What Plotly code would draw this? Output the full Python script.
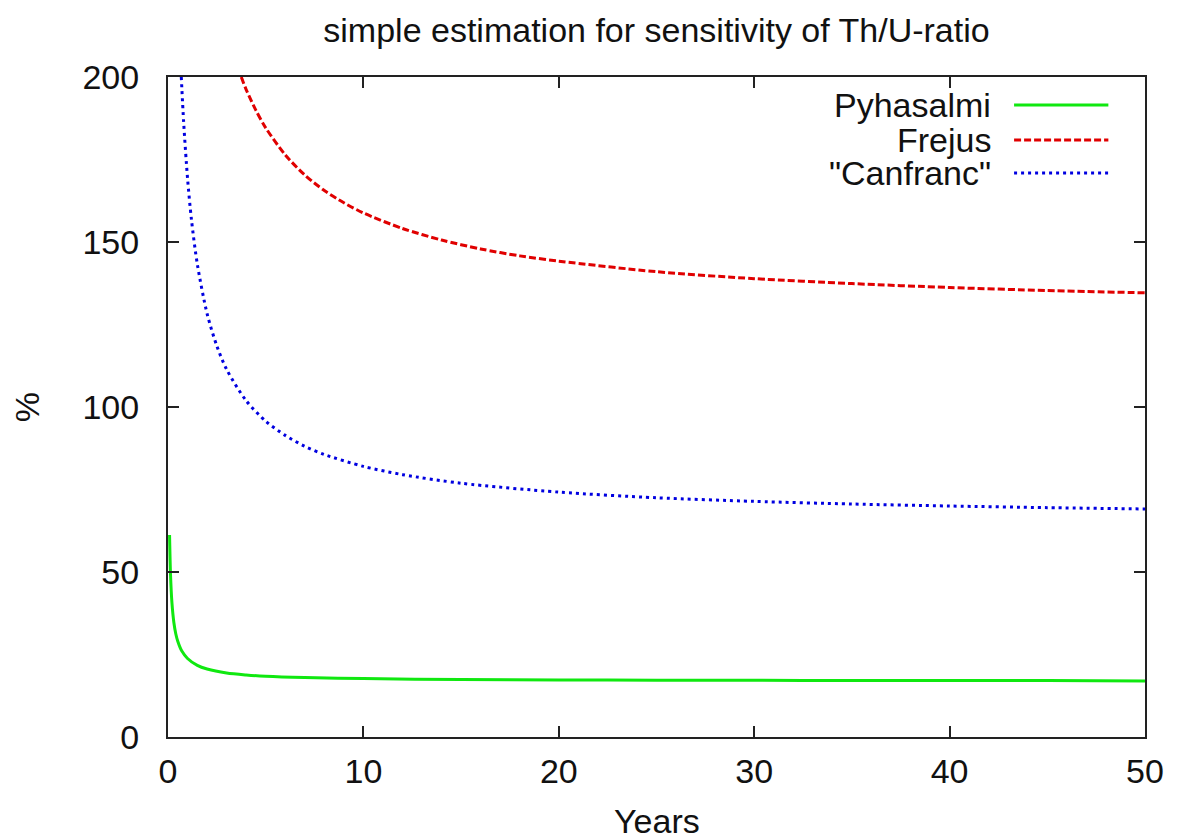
import plotly.graph_objects as go

# values
pyhasalmi_years = [0.08, 0.13, 0.2, 0.3, 0.4, 0.5, 0.7, 1, 1.5, 2, 3, 4, 5, 7, 10,
                   15, 20, 25, 30, 35, 40, 45, 50]
pyhasalmi_pct = [61.2, 49.0, 40.8, 34.7, 31.2, 29.0, 26.1, 23.8, 21.7, 20.6, 19.4, 18.8,
                 18.4, 18.0, 17.7, 17.4, 17.3, 17.2, 17.2, 17.1, 17.1, 17.1, 17.0]

frejus_years = [3.75, 4, 4.5, 5, 6, 7, 8, 9, 10, 12, 14, 16, 18, 20, 25, 30, 35, 40, 45, 50]
frejus_pct = [200, 196.2, 189.9, 184.6, 176.4, 170.3, 165.6, 161.9, 158.8, 154.1, 150.6,
              147.9, 145.8, 144.2, 141.0, 138.9, 137.4, 136.2, 135.3, 134.6]

canfranc_years = [0.68, 0.8, 1.0, 1.2, 1.5, 2.0, 2.5, 3, 4, 5, 6, 7, 8, 10, 12, 15, 20,
                  25, 30, 35, 40, 45, 50]
canfranc_pct = [200, 186.4, 169.3, 156.8, 143.3, 128.3, 118.5, 111.4, 101.9, 95.7, 91.4,
                88.1, 85.6, 82.0, 79.5, 76.9, 74.2, 72.5, 71.4, 70.6, 70.0, 69.5, 69.1]

x_ticks = [0, 10, 20, 30, 40, 50]
y_ticks = [0, 50, 100, 150, 200]

names = ["Pyhasalmi", "Frejus", '"Canfranc"']
colors = ["#10e810", "#e00000", "#0000e0"]
dashes = ["solid", "7px,3px", "3px,4px"]
widths = [3, 3, 3]

font = "Liberation Sans, Arial, sans-serif"
fsize = 34

fig = go.Figure()
series = [(pyhasalmi_years, pyhasalmi_pct), (frejus_years, frejus_pct),
          (canfranc_years, canfranc_pct)]
for (xs, ys), name, col, dash, w in zip(series, names, colors, dashes, widths):
    fig.add_trace(go.Scatter(x=xs, y=ys, name=name, mode="lines",
                             line=dict(color=col, dash=dash, width=w, shape="spline",
                                       smoothing=0.8),
                             showlegend=False))

axis = dict(showline=True, linecolor="#222", linewidth=2, mirror="allticks",
            ticks="inside", ticklen=11, tickwidth=2, tickcolor="#222",
            showgrid=False, zeroline=False,
            tickfont=dict(family=font, size=fsize, color="#111"))

# the page body adds an 8px margin; keep the figure (and the "50" label) inside 1168px
fig.update_layout(
    width=1168, height=831,
    margin=dict(l=160, r=22, t=69, b=102),
    paper_bgcolor="white", plot_bgcolor="white",
    title=dict(text="simple estimation for sensitivity of Th/U-ratio",
               x=0.5, xref="paper", xanchor="center",
               y=1 - 22 / 831, yref="container", yanchor="middle",
               font=dict(family=font, size=fsize, color="#111")),
    xaxis=dict(axis, range=[0, 50], tickvals=x_ticks, ticklabelstandoff=3),
    yaxis=dict(axis, range=[0, 200], tickvals=y_ticks, ticklabelstandoff=20),
)

# axis titles
fig.add_annotation(text="Years", xref="paper", yref="paper", x=0.5, y=-0.127,
                   xanchor="center", yanchor="middle", showarrow=False,
                   font=dict(family=font, size=fsize, color="#111"))
fig.add_annotation(text="%", xref="paper", yref="paper", x=-0.144, y=0.5,
                   xanchor="center", yanchor="middle",
                   textangle=-90, showarrow=False,
                   font=dict(family=font, size=fsize, color="#111"))

# gnuplot style key: text right aligned, sample line on the right
key_y = [0.9576, 0.9045, 0.8545]
for name, col, dash, w, ky in zip(names, colors, dashes, widths, key_y):
    fig.add_annotation(text=name, xref="paper", yref="paper", x=0.8446, y=ky,
                       xanchor="right", yanchor="middle", showarrow=False,
                       font=dict(family=font, size=fsize, color="#111"))
    fig.add_shape(type="line", xref="paper", yref="paper", x0=0.866, x1=0.9625,
                  y0=ky, y1=ky, line=dict(color=col, dash=dash, width=w))

fig.write_html("out.html")
